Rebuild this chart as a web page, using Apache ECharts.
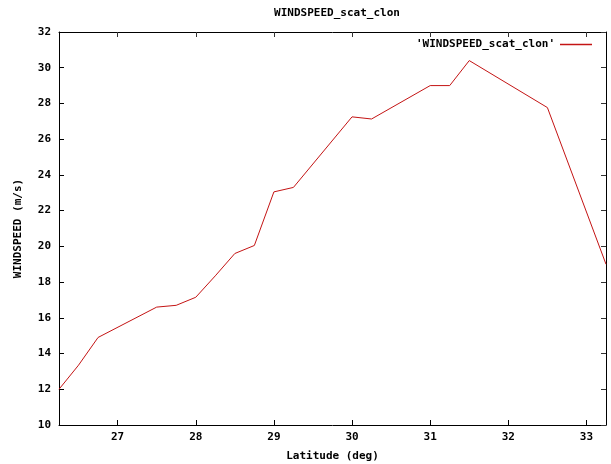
<!DOCTYPE html>
<html>
<head>
<meta charset="utf-8">
<script src="https://cdn.jsdelivr.net/npm/echarts@6/dist/echarts.min.js"></script>
<style>html,body{margin:0;padding:0;background:#fff}#c{width:611px;height:464px}</style>
</head>
<body>
<div id="c"></div>
<script>
const latitude = [26.25, 26.5, 26.75, 27.5, 27.75, 28.0, 28.25, 28.5, 28.75, 29.0, 29.25, 30.0, 30.25, 31.0, 31.25, 31.5, 32.5, 33.25];
const windspeed = [12.0, 13.35, 14.9, 16.6, 16.7, 17.15, 18.35, 19.6, 20.05, 23.05, 23.3, 27.25, 27.13, 29.0, 29.0, 30.4, 27.77, 19.0];
const xTicks = [27, 28, 29, 30, 31, 32, 33];
const titleText = 'WINDSPEED_scat_clon';
const seriesName = "'WINDSPEED_scat_clon'";
const xName = 'Latitude (deg)';
const yName = 'WINDSPEED (m/s)';

const FONT = '"DejaVu Sans Mono", monospace';
const LINE = '#c41414';
const txt = {fontFamily: FONT, fontWeight: 'bold', fontSize: 11, color: '#000'};
const chart = echarts.init(document.getElementById('c'), null, {renderer: 'canvas'});
const baseX = {
  type: 'value', min: 26.25, max: 33.25,
  axisLine: {show: true, onZero: false, lineStyle: {color: '#000', width: 1}},
  splitLine: {show: false}
};
const baseY = {
  type: 'value', min: 10, max: 32, interval: 2,
  axisLine: {show: true, onZero: false, lineStyle: {color: '#000', width: 1}},
  splitLine: {show: false}
};
chart.setOption({
  animation: false,
  backgroundColor: '#fff',
  title: {text: titleText, left: 332, textAlign: 'center', top: 3, textStyle: Object.assign({}, txt)},
  legend: {
    right: 14, top: 34, align: 'right', itemWidth: 32, itemHeight: 1.5, itemGap: 4,
    textStyle: Object.assign({}, txt),
    data: [{name: seriesName, icon: 'rect', itemStyle: {color: LINE}}]
  },
  grid: {left: 59, right: 5, top: 32, bottom: 39, containLabel: false, outerBoundsMode: 'none'},
  xAxis: [
    Object.assign({}, baseX, {
      position: 'bottom',
      name: xName, nameLocation: 'middle', nameGap: 26, nameTextStyle: Object.assign({}, txt),
      axisTick: {show: true, inside: true, length: 5, customValues: xTicks, lineStyle: {color: '#000'}},
      axisLabel: {show: true, customValues: xTicks, margin: 7, ...txt}
    }),
    Object.assign({}, baseX, {
      position: 'top',
      axisTick: {show: true, inside: true, length: 5, customValues: xTicks, lineStyle: {color: '#333'}},
      axisLabel: {show: false}
    })
  ],
  yAxis: [
    Object.assign({}, baseY, {
      position: 'left',
      name: yName, nameLocation: 'middle', nameGap: 35, nameRotate: 90, nameTextStyle: Object.assign({}, txt),
      axisTick: {show: true, inside: true, length: 5, lineStyle: {color: '#000'}},
      axisLabel: {show: true, margin: 8, ...txt}
    }),
    Object.assign({}, baseY, {
      position: 'right',
      axisTick: {show: true, inside: true, length: 5, lineStyle: {color: '#333'}},
      axisLabel: {show: false}
    })
  ],
  series: [{
    name: seriesName, type: 'line', xAxisIndex: 0, yAxisIndex: 0,
    showSymbol: false, symbol: 'none',
    lineStyle: {color: LINE, width: 1},
    itemStyle: {color: LINE},
    data: latitude.map((x, i) => [x, windspeed[i]])
  }]
});
</script>
</body>
</html>
